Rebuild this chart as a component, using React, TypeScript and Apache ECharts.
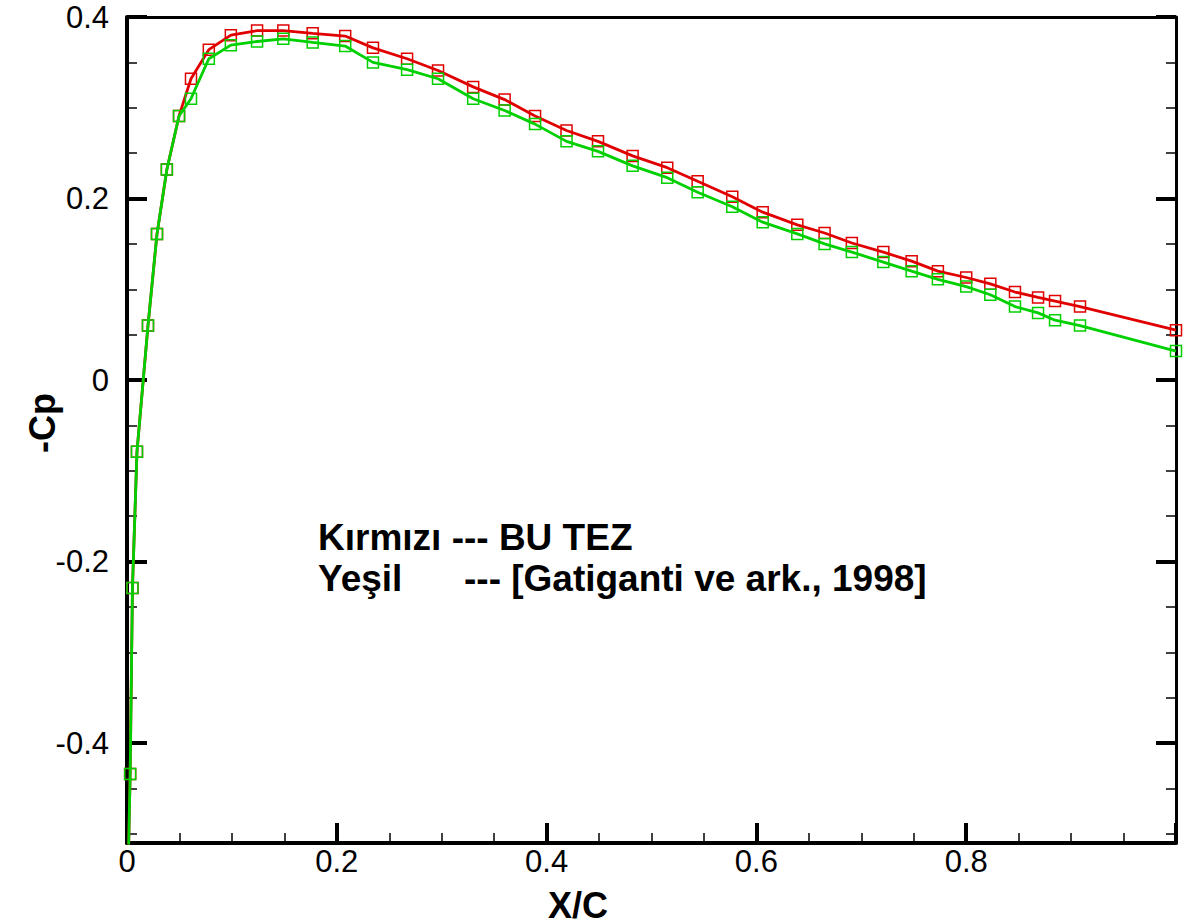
import React, { useEffect, useRef } from "react";
import * as echarts from "echarts";

const xOverC = [0, 0.003, 0.0052, 0.0095, 0.020, 0.0286, 0.038, 0.0496, 0.061, 0.078, 0.099, 0.124, 0.149, 0.177, 0.208, 0.2345, 0.267, 0.2965, 0.330, 0.360, 0.389, 0.419, 0.449, 0.482, 0.515, 0.544, 0.577, 0.606, 0.639, 0.665, 0.691, 0.721, 0.748, 0.773, 0.800, 0.823, 0.8465, 0.8685, 0.8847, 0.9085, 1.0];

const redCp = [-0.6, -0.434, -0.229, -0.079, 0.060, 0.161, 0.232, 0.291, 0.332, 0.364, 0.380, 0.385, 0.385, 0.382, 0.379, 0.366, 0.354, 0.341, 0.323, 0.309, 0.291, 0.275, 0.263, 0.247, 0.234, 0.219, 0.202, 0.185, 0.171, 0.162, 0.151, 0.141, 0.131, 0.120, 0.113, 0.106, 0.097, 0.091, 0.087, 0.081, 0.055];

const greenCp = [-0.6, -0.434, -0.229, -0.079, 0.060, 0.161, 0.232, 0.291, 0.310, 0.354, 0.369, 0.373, 0.376, 0.372, 0.368, 0.350, 0.342, 0.332, 0.310, 0.297, 0.282, 0.263, 0.252, 0.236, 0.223, 0.207, 0.191, 0.174, 0.161, 0.150, 0.141, 0.130, 0.120, 0.111, 0.103, 0.094, 0.081, 0.074, 0.066, 0.060, 0.032];

const legendLines = ["Kırmızı --- BU TEZ", "Yeşil", "--- [Gatiganti ve ark., 1998]"];
const xTitle = "X/C";
const yTitle = "-Cp";

const RED = "#e00000";
const GREEN = "#00d000";
const FONT = '"Liberation Sans", Arial, Helvetica, sans-serif';

export default function App() {
  const ref = useRef<HTMLDivElement>(null);
  useEffect(() => {
    if (!ref.current) return;
    const chart = echarts.init(ref.current, null, { renderer: "svg" });
    const mk = (ys: number[]) => xOverC.map((x, i) => [x, ys[i]]);
    const yMin = -0.51;
    const yMax = 0.4;
    const axisLabel = { color: "#000", fontSize: 31, fontFamily: FONT };
    const option: any = {
      animation: false,
      backgroundColor: "#fff",
      grid: { left: 127, top: 17, right: 8, bottom: 81, containLabel: false },
      xAxis: [
        {
          type: "value",
          min: 0,
          max: 1,
          interval: 0.2,
          position: "bottom",
          axisLine: { show: true, onZero: false, lineStyle: { color: "#000", width: 4 } },
          axisTick: { show: true, inside: true, length: 20, lineStyle: { color: "#000", width: 4 } },
          minorTick: { show: true, splitNumber: 4, length: 10, lineStyle: { color: "#000", width: 1.5 } },
          splitLine: { show: false },
          axisLabel: { ...axisLabel, margin: 3, showMaxLabel: false },
        },
        {
          type: "value",
          min: 0,
          max: 1,
          position: "top",
          axisLine: { show: true, onZero: false, lineStyle: { color: "#000", width: 3 } },
          axisTick: { show: false },
          axisLabel: { show: false },
          splitLine: { show: false },
        },
      ],
      yAxis: [
        {
          type: "value",
          min: yMin,
          max: yMax,
          splitNumber: 5,
          position: "left",
          axisLine: { show: true, onZero: false, lineStyle: { color: "#000", width: 4 } },
          axisTick: { show: true, inside: true, length: 20, lineStyle: { color: "#000", width: 4 } },
          minorTick: { show: true, splitNumber: 4, length: 10, lineStyle: { color: "#000", width: 1.5 } },
          splitLine: { show: false },
          axisLabel: { ...axisLabel, margin: 18, showMinLabel: false },
        },
        {
          type: "value",
          min: yMin,
          max: yMax,
          splitNumber: 5,
          position: "right",
          axisLine: { show: true, onZero: false, lineStyle: { color: "#000", width: 3 } },
          axisTick: { show: true, inside: true, length: 20, lineStyle: { color: "#000", width: 4 } },
          minorTick: { show: true, splitNumber: 4, length: 10, lineStyle: { color: "#000", width: 1.5 } },
          splitLine: { show: false },
          axisLabel: { show: false },
        },
      ],
      series: [
        {
          type: "line",
          name: "BU TEZ",
          data: mk(redCp),
          xAxisIndex: 0,
          yAxisIndex: 0,
          clip: true,
          symbol: "rect",
          symbolSize: 11,
          showAllSymbol: true,
          color: RED,
          lineStyle: { color: RED, width: 2.8 },
          itemStyle: { color: "rgba(0,0,0,0)", borderColor: RED, borderWidth: 1.5 },
          z: 3,
        },
        {
          type: "line",
          name: "Gatiganti ve ark., 1998",
          data: mk(greenCp),
          xAxisIndex: 0,
          yAxisIndex: 0,
          clip: true,
          symbol: "rect",
          symbolSize: 11,
          showAllSymbol: true,
          color: GREEN,
          lineStyle: { color: GREEN, width: 2.8 },
          itemStyle: { color: "rgba(0,0,0,0)", borderColor: GREEN, borderWidth: 1.5 },
          z: 4,
        },
      ],
      graphic: [
        {
          type: "text",
          x: 318,
          y: 537,
          style: { text: legendLines[0], font: `bold 37px ${FONT}`, fill: "#000", textAlign: "left", textVerticalAlign: "middle" },
        },
        {
          type: "text",
          x: 318,
          y: 578,
          style: { text: legendLines[1], font: `bold 37px ${FONT}`, fill: "#000", textAlign: "left", textVerticalAlign: "middle" },
        },
        {
          type: "text",
          x: 464,
          y: 578,
          style: { text: legendLines[2], font: `bold 37px ${FONT}`, fill: "#000", textAlign: "left", textVerticalAlign: "middle" },
        },
        {
          type: "text",
          x: 578,
          y: 905,
          style: { text: xTitle, font: `bold 36px ${FONT}`, fill: "#000", textAlign: "center", textVerticalAlign: "middle" },
        },
        {
          type: "text",
          x: 42,
          y: 423,
          rotation: Math.PI / 2,
          style: { text: yTitle, font: `bold 36px ${FONT}`, fill: "#000", textAlign: "center", textVerticalAlign: "middle" },
        },
      ],
    };
    chart.setOption(option);
    return () => chart.dispose();
  }, []);
  return (
    <div
      ref={ref}
      style={{ position: "fixed", left: 0, top: 0, width: 1184, height: 924, background: "#fff" }}
    />
  );
}
